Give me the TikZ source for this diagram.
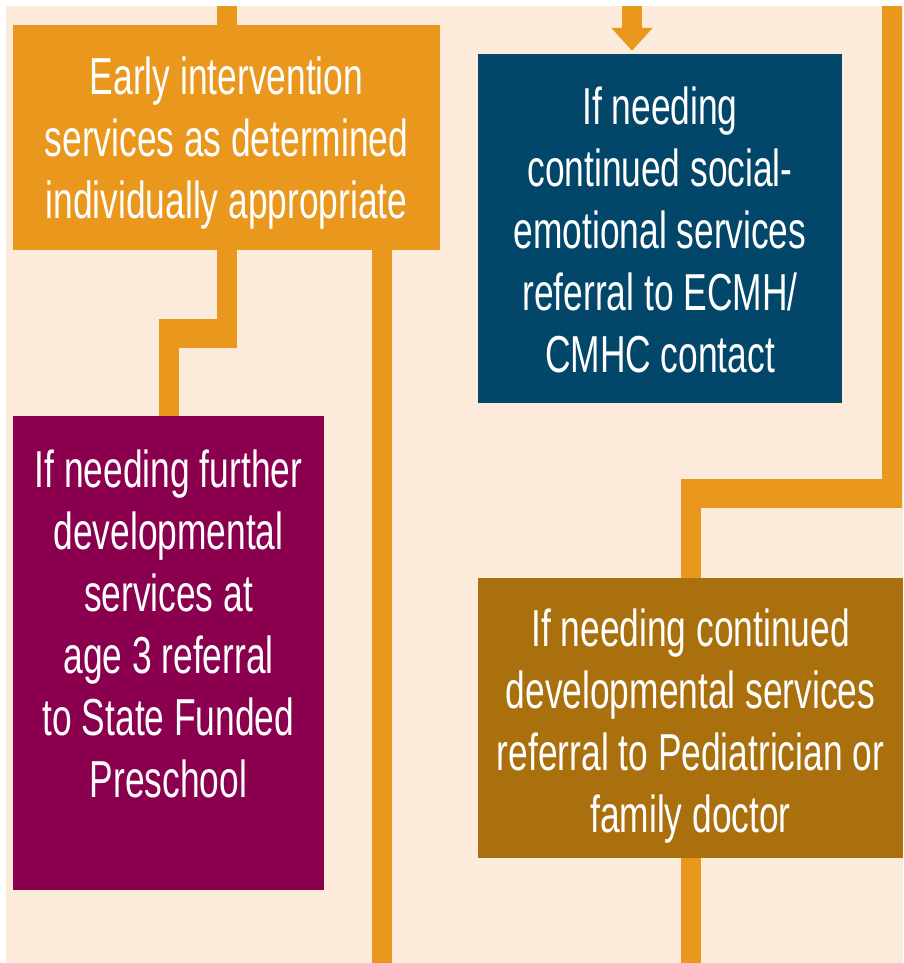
\documentclass[tikz,border=0pt]{standalone}
\usepackage{fontspec}
\setmainfont{Liberation Sans}[FakeStretch=0.68]
\usepackage{tikz}
\usetikzlibrary{arrows.meta,positioning}
\definecolor{bgpeach}{HTML}{FCEBDA}
\definecolor{eiorange}{HTML}{E9971D}
\definecolor{seblue}{HTML}{02476A}
\definecolor{fppurple}{HTML}{8A004E}
\definecolor{cdbrown}{HTML}{AA700D}

\begin{document}
\begin{tikzpicture}[x=1pt, y=-1pt,
    box/.style={rectangle, inner sep=0pt},
    txt/.style={inner sep=0pt, align=center, text=white,
                font=\fontsize{52}{62}\selectfont},
    link/.style={draw=eiorange, line width=20pt, line join=miter},
    bar/.style={draw=eiorange, line width=29pt},
    arr/.style={link, -{Triangle[width=40pt, length=23pt]}, shorten >=3pt}
  ]
  \useasboundingbox (0,0) rectangle (903,963);
  \fill[white] (0,0) rectangle (903,963);
  \fill[bgpeach] (6,6) rectangle (903,963);
  % --- fixed ends of the connectors ---
  \coordinate (topL) at (227,6);
  \coordinate (topM) at (632,6);
  \coordinate (topR) at (892,6);
  \coordinate (bendL) at (0,333.5);
  \coordinate (bendR) at (0,493);
  \coordinate (downL) at (381.5,963);
  % --- boxes ---
  \node[box, fill=eiorange, minimum width=427pt, minimum height=225pt] (EI)
    at (226.5,137.5) {};
  \node[box, fill=seblue, minimum width=364pt, minimum height=349pt] (SE)
    at (660,228.5) {};
  \node[box, fill=fppurple, minimum width=311pt, minimum height=474pt] (FP)
    at (168.5,653) {};
  \node[box, fill=cdbrown, minimum width=425pt, minimum height=280pt] (CD)
    at (690.5,718) {};
  % --- texts ---
  \node[txt, yshift=-6pt] (EItxt) at (EI.center)
    {Early intervention\\ services as determined\\ individually appropriate};
  \node[txt, yshift=-1pt] (SEtxt) at (SE.center)
    {If needing\\ continued social-\\ emotional services\\ referral to ECMH/\\ CMHC contact};
  \node[txt, yshift=29pt] (FPtxt) at (FP.center)
    {If needing further\\ developmental\\ services at\\ age 3 referral\\ to State Funded\\ Preschool};
  \node[txt, yshift=-8pt] (CDtxt) at (CD.center)
    {If needing continued\\ developmental services\\ referral to Pediatrician or\\ family doctor};
  % --- connectors ---
  \draw[link] (topL) -- (topL |- EI.north);
  \draw[arr] (topM) -- (topM |- SE.north);
  \draw[link] ([xshift=0.5pt]EI.south) |- (FP.north |- bendL) -- (FP.north);
  \draw[bar] ([xshift=-10pt]FP.north |- bendL) -- ([xshift=10.5pt]EI.south |- bendL);
  \draw[link] (downL |- EI.south) -- (downL);
  \draw[link] (topR) |- (CD.north |- bendR) -- (CD.north);
  \draw[bar] ([xshift=-10pt]CD.north |- bendR) -- ([xshift=10pt]topR |- bendR);
  \draw[link] (CD.south) -- (CD.south |- downL);
\end{tikzpicture}
\end{document}
